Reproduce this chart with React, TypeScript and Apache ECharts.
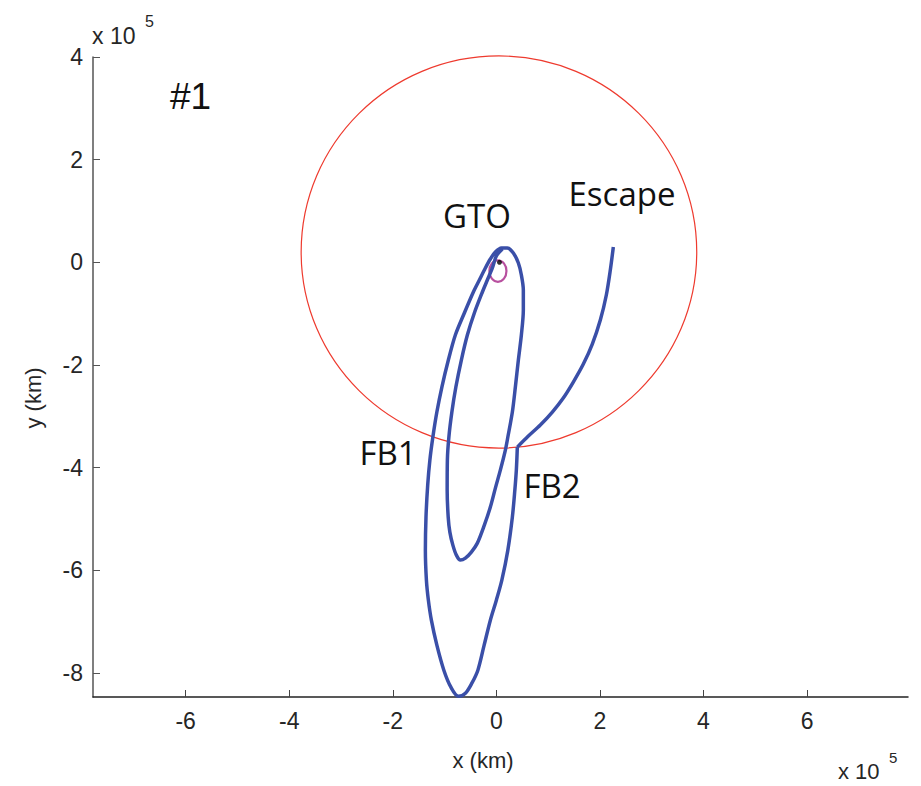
import React, { useEffect, useRef } from "react";
import * as echarts from "echarts";

// Units: 10^5 km
const xTicks = [-6, -4, -2, 0, 2, 4, 6];
const yTicks = [-8, -6, -4, -2, 0, 2, 4];

// Phasing-loop trajectory (GTO departure, inner loop, FB1, outer loop, to FB2)
const orbitX = [
  0.116, 0.0, -0.077, -0.174, -0.27, -0.425, -0.56, -0.676, -0.782, -0.859, -0.917, -0.946, -0.95, -0.93, -0.898, -0.84, -0.772, -0.695,
  -0.598, -0.483, -0.367, -0.232, -0.116, -0.019, 0.077, 0.174, 0.222, 0.309, 0.367, 0.425, 0.483, 0.521, 0.521, 0.483, 0.425, 0.328, 0.212,
  0.097, -0.019, -0.116, -0.212, -0.328, -0.444, -0.618, -0.792, -0.927, -1.052, -1.149, -1.226, -1.284, -1.326, -1.359, -1.371, -1.351,
  -1.313, -1.255, -1.149, -1.014, -0.878, -0.734, -0.598, -0.473, -0.357, -0.236, -0.116, 0.0, 0.106, 0.222, 0.309, 0.357, 0.386, 0.405,
];
const orbitY = [
  0.259, 0.123, -0.111, -0.345, -0.579, -0.988, -1.417, -1.904, -2.431, -2.918, -3.405, -3.854, -4.439, -4.965, -5.257, -5.511, -5.706, -5.803,
  -5.765, -5.647, -5.472, -5.121, -4.77, -4.4, -4.049, -3.659, -3.405, -2.918, -2.431, -1.904, -1.417, -0.93, -0.54, -0.248, -0.014, 0.181, 0.279,
  0.279, 0.201, 0.064, -0.111, -0.345, -0.579, -0.988, -1.417, -1.904, -2.431, -2.918, -3.405, -3.854, -4.341, -4.965, -5.608, -6.193,
  -6.583, -6.973, -7.46, -7.948, -8.279, -8.455, -8.396, -8.201, -7.948, -7.46, -6.973, -6.583, -6.193, -5.608, -4.965, -4.439, -4.049, -3.601,
];

// Escape leg after FB2
const escapeX = [0.405, 0.618, 0.849, 1.081, 1.293, 1.486, 1.68, 1.853, 2.008, 2.124, 2.201, 2.259];
const escapeY = [-3.601, -3.386, -3.171, -2.918, -2.645, -2.334, -1.983, -1.593, -1.125, -0.637, -0.15, 0.298];

// Moon orbit circle: [cx, cy, r]
const moonOrbit = [0.05, 0.2, 3.82];
// GTO ellipse: [cx, cy, rx, ry]
const gto = [0.03, -0.17, 0.165, 0.21];
// Earth
const earth = [0.06, 0.0];

const xMin = -7.79;
const xMax = 7.95;
const yMin = -8.47;
const yMax = 4;

export default function App() {
  const ref = useRef<HTMLDivElement>(null);
  useEffect(() => {
    if (!ref.current) return;
    const chart = echarts.init(ref.current, null, { renderer: "svg" });
    const labelFont = "'Liberation Sans', Arial, sans-serif";
    const annFont = "'Open Sans', sans-serif";
    const blue = "#3a4fa8";
    const option: any = {
      animation: false,
      backgroundColor: "#ffffff",
      grid: { left: 93, top: 57, width: 815, height: 640, containLabel: false },
      xAxis: {
        type: "value",
        min: xMin,
        max: xMax,
        splitLine: { show: false },
        axisLine: { show: true, onZero: false, lineStyle: { color: "#222", width: 1.5 } },
        axisTick: { show: true, inside: true, length: 7, customValues: xTicks, lineStyle: { color: "#444", width: 1 } },
        axisLabel: { customValues: xTicks, color: "#262626", fontSize: 23, fontFamily: labelFont, margin: 12 },
      },
      yAxis: {
        type: "value",
        min: yMin,
        max: yMax,
        splitLine: { show: false },
        axisLine: { show: true, onZero: false, lineStyle: { color: "#555", width: 1.5 } },
        axisTick: { show: true, inside: true, length: 7, customValues: yTicks, lineStyle: { color: "#555", width: 1 } },
        axisLabel: { customValues: yTicks, color: "#262626", fontSize: 23, fontFamily: labelFont, margin: 10 },
      },
      series: [
        {
          type: "custom",
          silent: true,
          data: [moonOrbit],
          renderItem: (params: any, api: any) => {
            const c = api.coord([api.value(0), api.value(1)]);
            const s = api.size([api.value(2), api.value(2)]);
            return {
              type: "ellipse",
              shape: { cx: c[0], cy: c[1], rx: s[0], ry: s[1] },
              style: { fill: "none", stroke: "#ee3a2e", lineWidth: 1.2 },
            };
          },
        },
        {
          type: "line",
          data: orbitX.map((x, i) => [x, orbitY[i]]),
          smooth: 0.3,
          showSymbol: false,
          lineStyle: { color: blue, width: 3.5 },
        },
        {
          type: "line",
          data: escapeX.map((x, i) => [x, escapeY[i]]),
          smooth: 0.3,
          showSymbol: false,
          lineStyle: { color: blue, width: 3.5 },
        },
        {
          type: "custom",
          silent: true,
          data: [gto],
          renderItem: (params: any, api: any) => {
            const c = api.coord([api.value(0), api.value(1)]);
            const s = api.size([api.value(2), api.value(3)]);
            return {
              type: "ellipse",
              shape: { cx: c[0], cy: c[1], rx: s[0], ry: s[1] },
              style: { fill: "none", stroke: "#b8509f", lineWidth: 2.2 },
            };
          },
        },
        {
          type: "scatter",
          data: [earth],
          symbolSize: 5,
          itemStyle: { color: "#000" },
        },
      ],
      graphic: [
        { type: "text", left: 170, top: 78, style: { text: "#1", font: `37px ${labelFont}`, fill: "#111" } },
        { type: "text", x: 477, y: 215, style: { text: "GTO", font: `33px ${annFont}`, fill: "#111", align: "center", verticalAlign: "middle" } },
        { type: "text", x: 622, y: 193, style: { text: "Escape", font: `33px ${annFont}`, fill: "#111", align: "center", verticalAlign: "middle" } },
        { type: "text", x: 388, y: 452, style: { text: "FB1", font: `33px ${annFont}`, fill: "#111", align: "center", verticalAlign: "middle" } },
        { type: "text", x: 552, y: 485, style: { text: "FB2", font: `33px ${annFont}`, fill: "#111", align: "center", verticalAlign: "middle" } },
        { type: "text", x: 483, y: 760, style: { text: "x (km)", font: `22px ${labelFont}`, fill: "#262626", align: "center", verticalAlign: "middle" } },
        { type: "text", x: 33, y: 398, rotation: Math.PI / 2, style: { text: "y (km)", font: `22px ${labelFont}`, fill: "#262626", align: "center", verticalAlign: "middle" } },
        { type: "text", x: 92, y: 36, style: { text: "x 10", font: `23px ${labelFont}`, fill: "#262626", align: "left", verticalAlign: "middle" } },
        { type: "text", x: 145, y: 21, style: { text: "5", font: `16px ${labelFont}`, fill: "#262626", align: "left", verticalAlign: "middle" } },
        { type: "text", x: 838, y: 771, style: { text: "x 10", font: `22px ${labelFont}`, fill: "#262626", align: "left", verticalAlign: "middle" } },
        { type: "text", x: 889, y: 757, style: { text: "5", font: `15px ${labelFont}`, fill: "#262626", align: "left", verticalAlign: "middle" } },
      ],
    };
    chart.setOption(option);
    return () => chart.dispose();
  }, []);
  return (
    <div
      ref={ref}
      style={{ position: "fixed", left: 0, top: 0, width: 921, height: 786, background: "#fff" }}
    />
  );
}
